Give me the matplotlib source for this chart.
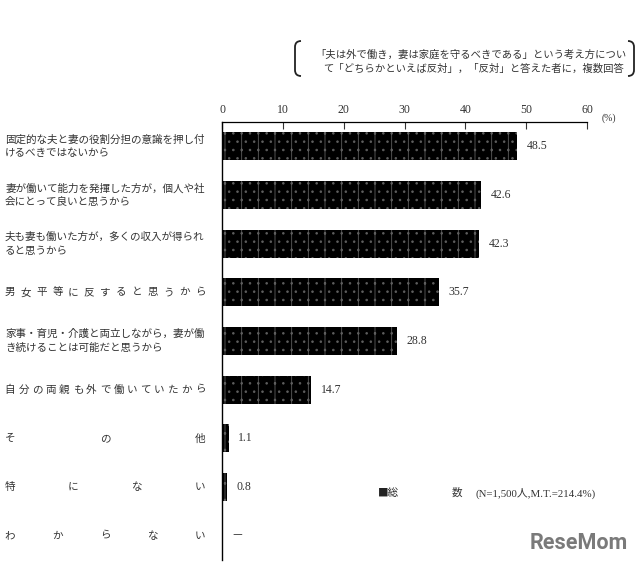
import matplotlib
matplotlib.use("Agg")
import matplotlib.pyplot as plt
from matplotlib.path import Path
from matplotlib.patches import PathPatch
import matplotlib.transforms as mtransforms
import numpy as np

plt.rcParams['font.family'] = ['Noto Sans CJK JP', 'DejaVu Sans']
plt.rcParams['hatch.linewidth'] = 0.6

categories = [
    "固定的な夫と妻の役割分担の意識を押し付\nけるべきではないから",
    "妻が働いて能力を発揮した方が，個人や社\n会にとって良いと思うから",
    "夫も妻も働いた方が，多くの収入が得られ\nると思うから",
    "男女平等に反すると思うから",
    "家事・育児・介護と両立しながら，妻が働\nき続けることは可能だと思うから",
    "自分の両親も外で働いていたから",
    "その他",
    "特にない",
    "わからない",
]
distributed = [False, False, False, True, False, True, True, True, True]
values = [48.5, 42.6, 42.3, 35.7, 28.8, 14.7, 1.1, 0.8, None]
value_labels = ["48.5", "42.6", "42.3", "35.7", "28.8", "14.7", "1.1", "0.8", "－"]
xticks = [0, 10, 20, 30, 40, 50, 60]
header = ["「夫は外で働き，妻は家庭を守るべきである」という考え方につい",
          "て「どちらかといえば反対」，「反対」と答えた者に，複数回答"]
legend_text = ("■総", "数", "(N=1,500人,M.T.=214.4%)")

SERIF = ['Liberation Serif', 'Noto Sans CJK JP', 'DejaVu Sans']

W, H = 640, 565
fig = plt.figure(figsize=(W / 100, H / 100), dpi=100)

def fx(x):
    return x / W

def fy(y):
    return 1 - y / H

ax = fig.add_axes([fx(222), fy(560), fx(587) - fx(222), fy(122) - fy(560)])

ypos = np.arange(len(categories))
bar_vals = [v if v is not None else 0 for v in values]
ax.barh(ypos, bar_vals, height=0.58, color='black', edgecolor='#5e5e5e',
        linewidth=0, hatch='|..')

ax.set_xlim(0, 60)
ax.set_ylim(len(categories) - 0.5, -0.5)
ax.xaxis.tick_top()
ax.set_xticks(xticks)
ax.set_xticklabels([str(t) for t in xticks], fontfamily=SERIF,
                   fontsize=8.5, color='#333333')
ax.tick_params(axis='x', direction='in', length=5, width=0.8, pad=4, color='#333333')
ax.set_yticks([])
for s in ['right', 'bottom']:
    ax.spines[s].set_visible(False)
ax.spines['top'].set_linewidth(0.9)
ax.spines['left'].set_linewidth(1.0)

for i, (v, lab) in enumerate(zip(bar_vals, value_labels)):
    ax.text(v + 1.6, i, lab, va='center', ha='left', fontsize=8.5,
            fontfamily=SERIF, color='#333333')

# category labels
trans = mtransforms.blended_transform_factory(fig.transFigure, ax.transData)
for i, (cat, dist) in enumerate(zip(categories, distributed)):
    if dist:
        chars = list(cat)
        xs = np.linspace(10, 200, len(chars))
        for c, x in zip(chars, xs):
            ax.text(fx(x), i, c, transform=trans, ha='center', va='center',
                    fontsize=7.6, color='#333333')
    else:
        ax.text(fx(5), i, cat, transform=trans, ha='left', va='center',
                fontsize=7.6, color='#333333', linespacing=1.45)

fig.text(fx(602), fy(118), "(%)", fontsize=7, fontfamily=SERIF,
         color='#333333', ha='left', va='center')

# header note with bracket shapes
fig.text(fx(315), fy(55), header[0], fontsize=7.45, color='#333333', ha='left', va='center')
fig.text(fx(323), fy(69), header[1], fontsize=7.45, color='#333333', ha='left', va='center')

def bracket(x_out, x_in, y0, y1):
    verts = [(fx(x_in), fy(y0)), (fx(x_out), fy(y0)), (fx(x_out), fy(y0 + 6)),
             (fx(x_out), fy(y1 - 6)), (fx(x_out), fy(y1)), (fx(x_in), fy(y1))]
    codes = [Path.MOVETO, Path.CURVE3, Path.CURVE3, Path.LINETO, Path.CURVE3, Path.CURVE3]
    fig.add_artist(PathPatch(Path(verts, codes), facecolor='none', edgecolor='#222222',
                             linewidth=1.3, transform=fig.transFigure))

bracket(295, 301, 41, 76)
bracket(634, 628, 41, 76)

# legend-like note
fig.text(fx(378), fy(493), legend_text[0], fontsize=7.6, color='#222222', ha='left', va='center')
fig.text(fx(452), fy(493), legend_text[1], fontsize=7.6, color='#333333', ha='left', va='center')
fig.text(fx(476), fy(493), legend_text[2], fontsize=7.8, fontfamily=SERIF,
         color='#333333', ha='left', va='center')

# watermark
fig.text(fx(530), fy(543), "ReseMom", fontsize=15.5, fontweight='bold', color='#7a7a7a',
         fontfamily='Roboto', ha='left', va='center')

fig.savefig("out.png", dpi=100, facecolor='white')
